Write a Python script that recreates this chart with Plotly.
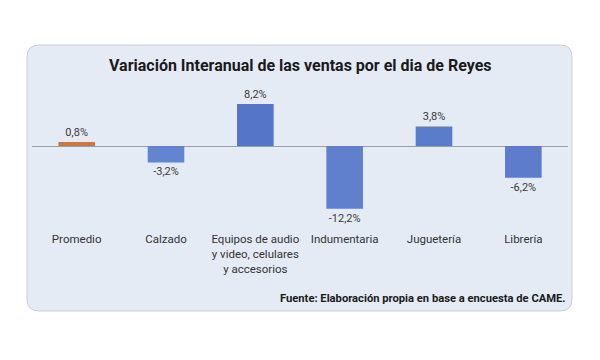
import plotly.graph_objects as go

categorias = ["Promedio", "Calzado", "Equipos de audio<br>y video, celulares<br>y accesorios",
              "Indumentaria", "Juguetería", "Librería"]
valores = [0.8, -3.2, 8.2, -12.2, 3.8, -6.2]
etiquetas = ["0,8%", "-3,2%", "8,2%", "-12,2%", "3,8%", "-6,2%"]
colores = ["#c9793f", "#6384d0", "#5575c8", "#6080cd", "#5b7bcb", "#5d7dcc"]
titulo = "Variación Interanual de las ventas por el dia de Reyes"
fuente = "Fuente: Elaboración propia en base a encuesta de CAME."

OFF = 8  # default page body margin
W, H = 600 - 2 * OFF, 360 - 2 * OFF

def px(x):
    return (x - OFF) / W

def py(y):
    return 1 - (y - OFF) / H

fig = go.Figure()
fig.add_trace(go.Bar(
    x=categorias, y=valores, text=etiquetas, textposition="outside",
    marker=dict(color=colores, line=dict(width=0)),
    width=0.41, cliponaxis=False,
    textfont=dict(family="Roboto", size=11, color="#3a3a3a"),
    hoverinfo="skip",
))

# rounded panel
x0, x1, y0, y1, r = px(27), px(572), py(311), py(45), 12
rx, ry = r / W, r / H
path = (f"M {x0+rx},{y0} L {x1-rx},{y0} Q {x1},{y0} {x1},{y0+ry} "
        f"L {x1},{y1-ry} Q {x1},{y1} {x1-rx},{y1} L {x0+rx},{y1} "
        f"Q {x0},{y1} {x0},{y1-ry} L {x0},{y0+ry} Q {x0},{y0} {x0+rx},{y0} Z")
fig.add_shape(type="path", path=path, xref="paper", yref="paper",
              fillcolor="#e5ebf5", line=dict(color="#c9ced6", width=1), layer="below")

fig.add_annotation(text=f"<b>{titulo}</b>", x=px(300), y=py(66), xref="paper", yref="paper",
                   showarrow=False, xanchor="center", yanchor="middle",
                   font=dict(family="Roboto", size=16, color="#1a1a1a"))
fig.add_annotation(text=f"<b>{fuente}</b>", x=px(568), y=py(298), xref="paper", yref="paper",
                   showarrow=False, xanchor="right", yanchor="middle",
                   font=dict(family="Roboto", size=11.2, color="#1a1a1a"))

fig.update_layout(
    width=W, height=H, margin=dict(l=0, r=0, t=0, b=0),
    paper_bgcolor="white", plot_bgcolor="rgba(0,0,0,0)",
    showlegend=False,
    xaxis=dict(domain=[px(32), px(568)], showgrid=False, showline=False, ticks="",
               tickfont=dict(family="Roboto", size=11.5, color="#333333"),
               ticklabelstandoff=18, fixedrange=True),
    yaxis=dict(domain=[py(212.8), py(97.2)], range=[-13, 9.5], showgrid=False,
               showticklabels=False, zeroline=True, zerolinecolor="#9aa0a8",
               zerolinewidth=1, fixedrange=True),
)

fig.write_html("out.html")
